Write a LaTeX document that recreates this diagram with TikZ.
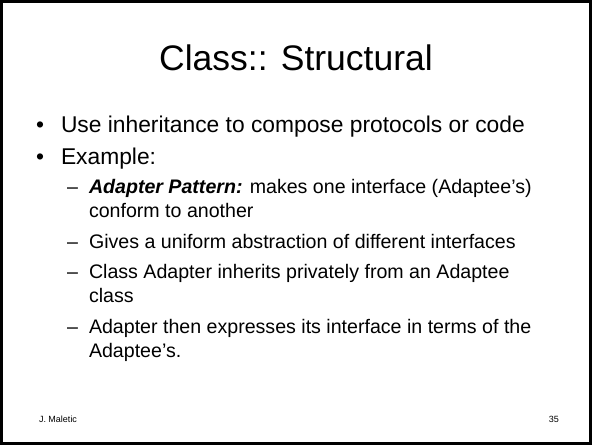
\documentclass[tikz,border=0pt]{standalone}
\usepackage{fontspec}
\setmainfont{Liberation Sans}
\begin{document}
\begin{tikzpicture}[x=1pt,y=-1pt,
  every node/.style={inner sep=0pt,outer sep=0pt},
  title/.style={anchor=base,font=\fontsize{35.5}{40}\selectfont},
  lone/.style={anchor=base west,font=\fontsize{22.8}{27}\selectfont},
  ltwo/.style={anchor=base west,font=\fontsize{19.6}{23}\selectfont},
  foot/.style={font=\fontsize{9}{11}\selectfont}]
\useasboundingbox (0,0) rectangle (592,445);
\draw[line width=2.5pt] (1.5,1.5) rectangle (590.5,443.5);
\node[title] (t) at (296,70) {Class:: Structural};
% level 1
\node[lone] (b1) at (36,132) {•};
\node[lone] (l1) at (61,132) {Use inheritance to compose protocols or code};
\node[lone] (b2) at (36,164) {•};
\node[lone] (l2) at (61,164) {Example:};
% level 2
\node[ltwo] (d1) at (67,193.5) {–};
\node[ltwo] (s1) at (89,193.5) {{\bfseries\itshape Adapter Pattern:} makes one interface (Adaptee’s)};
\node[ltwo] (s1b) at (89,217.5) {conform to another};
\node[ltwo] (d2) at (67,248.5) {–};
\node[ltwo] (s2) at (89,248.5) {Gives a uniform abstraction of different interfaces};
\node[ltwo] (d3) at (67,278.5) {–};
\node[ltwo] (s3) at (89,278.5) {Class Adapter inherits privately from an Adaptee};
\node[ltwo] (s3b) at (89,302.5) {class};
\node[ltwo] (d4) at (67,333.5) {–};
\node[ltwo] (s4) at (89,333.5) {Adapter then expresses its interface in terms of the};
\node[ltwo] (s4b) at (89,357.5) {Adaptee’s.};
% footer
\node[foot,anchor=base west] (f1) at (39,422) {J. Maletic};
\node[foot,anchor=base east] (f2) at (559,422) {35};
\end{tikzpicture}
\end{document}
